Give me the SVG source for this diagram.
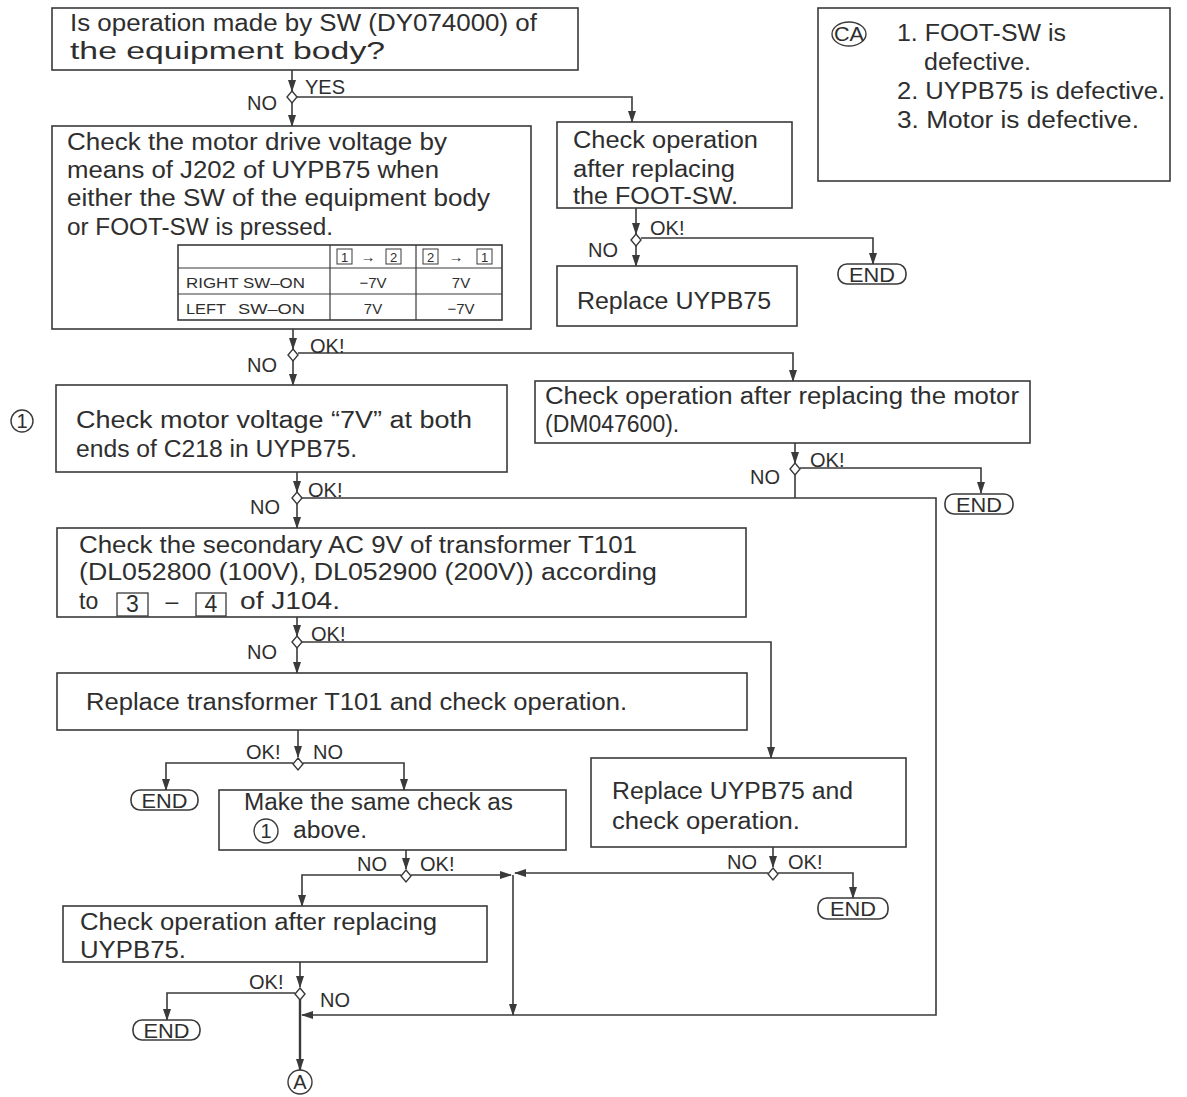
<svg xmlns="http://www.w3.org/2000/svg" width="1187" height="1097" viewBox="0 0 1187 1097">
<style>
.bx{fill:#fff;stroke:#3a3a3a;stroke-width:1.6}
.t{font-family:"Liberation Sans",Arial,sans-serif;font-size:23px;fill:#2e2e2e}
.l{font-family:"Liberation Sans",Arial,sans-serif;font-size:20px;fill:#2e2e2e}
.s{font-family:"Liberation Sans",Arial,sans-serif;font-size:15px;fill:#2e2e2e}
.n{font-family:"Liberation Sans",Arial,sans-serif;font-size:13px;fill:#2e2e2e}
.c{fill:none;stroke:#3a3a3a;stroke-width:1.6}
.end{fill:#fff;stroke:#3a3a3a;stroke-width:1.6}
.dm{fill:#fff;stroke:#3a3a3a;stroke-width:1.4}
</style>
<defs>
<marker id="ah" markerWidth="12" markerHeight="10" refX="11" refY="5" orient="auto" markerUnits="userSpaceOnUse" viewBox="0 0 12 10">
<path d="M0,1 L12,5 L0,9 Z" fill="#3a3a3a"/>
</marker>
<polygon id="dia" points="0,-6 5,0 0,6 -5,0" class="dm"/>
</defs>
<rect width="1187" height="1097" fill="#fff"/>

<g id="connectors">
<path class="c" d="M292,70 V91" marker-end="url(#ah)"/>
<path class="c" d="M292,103 V126" marker-end="url(#ah)"/>
<path class="c" d="M297,97 H632 V122" marker-end="url(#ah)"/>
<path class="c" d="M636,208 V234" marker-end="url(#ah)"/>
<path class="c" d="M636,246 V266" marker-end="url(#ah)"/>
<path class="c" d="M641,238 H873 V264" marker-end="url(#ah)"/>
<path class="c" d="M293,329 V349" marker-end="url(#ah)"/>
<path class="c" d="M293,361 V385" marker-end="url(#ah)"/>
<path class="c" d="M298,353 H793 V381" marker-end="url(#ah)"/>
<path class="c" d="M795,443 V463" marker-end="url(#ah)"/>
<path class="c" d="M800,468 H981 V493" marker-end="url(#ah)"/>
<path class="c" d="M795,474 V498"/>
<path class="c" d="M297,472 V492" marker-end="url(#ah)"/>
<path class="c" d="M297,504 V528" marker-end="url(#ah)"/>
<path class="c" d="M302,498 H936 V1015 H302" marker-end="url(#ah)"/>
<path class="c" d="M297,617 V636" marker-end="url(#ah)"/>
<path class="c" d="M297,648 V673" marker-end="url(#ah)"/>
<path class="c" d="M302,642 H771 V758" marker-end="url(#ah)"/>
<path class="c" d="M298,730 V757" marker-end="url(#ah)"/>
<path class="c" d="M293,763 H166 V790" marker-end="url(#ah)"/>
<path class="c" d="M303,763 H404 V790" marker-end="url(#ah)"/>
<path class="c" d="M406,850 V869" marker-end="url(#ah)"/>
<path class="c" d="M401,875 H302 V906" marker-end="url(#ah)"/>
<path class="c" d="M411,875 H511" marker-end="url(#ah)"/>
<path class="c" d="M773,847 V867" marker-end="url(#ah)"/>
<path class="c" d="M768,873 H515" marker-end="url(#ah)"/>
<path class="c" d="M778,873 H853 V898" marker-end="url(#ah)"/>
<path class="c" d="M513,875 V1015" marker-end="url(#ah)"/>
<path class="c" d="M300,962 V987" marker-end="url(#ah)"/>
<path class="c" d="M295,993 H167 V1020" marker-end="url(#ah)"/>
<path class="c" d="M300,999 V1070" style="stroke-width:2.4" marker-end="url(#ah)"/>
<use href="#dia" x="292" y="97"/>
<use href="#dia" x="636" y="240"/>
<use href="#dia" x="293" y="355"/>
<use href="#dia" x="795" y="469"/>
<use href="#dia" x="297" y="498"/>
<use href="#dia" x="297" y="642"/>
<use href="#dia" x="298" y="764"/>
<use href="#dia" x="406" y="876"/>
<use href="#dia" x="773" y="874"/>
<use href="#dia" x="300" y="994"/>
<text class="l" x="247" y="110">NO</text><text class="l" x="305" y="94">YES</text>
<text class="l" x="650" y="235">OK!</text><text class="l" x="588" y="257">NO</text>
<text class="l" x="310" y="353">OK!</text><text class="l" x="247" y="372">NO</text>
<text class="l" x="810" y="467">OK!</text><text class="l" x="750" y="484">NO</text>
<text class="l" x="308" y="497">OK!</text><text class="l" x="250" y="514">NO</text>
<text class="l" x="311" y="641">OK!</text><text class="l" x="247" y="659">NO</text>
<text class="l" x="246" y="759">OK!</text><text class="l" x="313" y="759">NO</text>
<text class="l" x="357" y="871">NO</text><text class="l" x="420" y="871">OK!</text>
<text class="l" x="727" y="869">NO</text><text class="l" x="788" y="869">OK!</text>
<text class="l" x="249" y="989">OK!</text><text class="l" x="320" y="1007">NO</text>
</g>

<g id="n1">
<rect class="bx" x="52" y="8" width="526" height="62"/>
<text class="t" x="70" y="31" textLength="467" lengthAdjust="spacingAndGlyphs">Is operation made by SW (DY074000) of</text>
<text class="t" x="70" y="59" textLength="315" lengthAdjust="spacingAndGlyphs">the equipment body?</text>
</g>

<g id="n2">
<rect class="bx" x="52" y="126" width="479" height="203"/>
<text class="t" x="67" y="150" textLength="380" lengthAdjust="spacingAndGlyphs">Check the motor drive voltage by</text>
<text class="t" x="67" y="178" textLength="372" lengthAdjust="spacingAndGlyphs">means of J202 of UYPB75 when</text>
<text class="t" x="67" y="206" textLength="423" lengthAdjust="spacingAndGlyphs">either the SW of the equipment body</text>
<text class="t" x="67" y="235" textLength="266" lengthAdjust="spacingAndGlyphs">or FOOT-SW is pressed.</text>
<g id="table">
<rect x="178" y="245" width="324" height="75" fill="none" stroke="#3a3a3a" stroke-width="1.6"/>
<path d="M178,268 H502 M178,294 H502 M330,245 V320 M416,245 V320" stroke="#3a3a3a" stroke-width="1.2" fill="none"/>
<rect x="337" y="249" width="15" height="15" fill="none" stroke="#3a3a3a" stroke-width="1"/>
<text class="n" x="344.5" y="261.5" text-anchor="middle">1</text>
<text class="s" x="368" y="262" text-anchor="middle">→</text>
<rect x="386" y="249" width="15" height="15" fill="none" stroke="#3a3a3a" stroke-width="1"/>
<text class="n" x="393.5" y="261.5" text-anchor="middle">2</text>
<rect x="423" y="249" width="15" height="15" fill="none" stroke="#3a3a3a" stroke-width="1"/>
<text class="n" x="430.5" y="261.5" text-anchor="middle">2</text>
<text class="s" x="456" y="262" text-anchor="middle">→</text>
<rect x="477" y="249" width="15" height="15" fill="none" stroke="#3a3a3a" stroke-width="1"/>
<text class="n" x="484.5" y="261.5" text-anchor="middle">1</text>
<text class="s" x="186" y="288" textLength="119" lengthAdjust="spacingAndGlyphs">RIGHT SW–ON</text>
<text class="s" x="186" y="314" textLength="40" lengthAdjust="spacingAndGlyphs">LEFT</text>
<text class="s" x="238" y="314" textLength="67" lengthAdjust="spacingAndGlyphs">SW–ON</text>
<text class="s" x="373" y="288" text-anchor="middle">−7V</text>
<text class="s" x="461" y="288" text-anchor="middle">7V</text>
<text class="s" x="373" y="314" text-anchor="middle">7V</text>
<text class="s" x="461" y="314" text-anchor="middle">−7V</text>
</g>
</g>

<g id="n3">
<rect class="bx" x="557" y="122" width="235" height="86"/>
<text class="t" x="573" y="148" textLength="185" lengthAdjust="spacingAndGlyphs">Check operation</text>
<text class="t" x="573" y="177" textLength="162" lengthAdjust="spacingAndGlyphs">after replacing</text>
<text class="t" x="573" y="204" textLength="165" lengthAdjust="spacingAndGlyphs">the FOOT-SW.</text>
</g>

<g id="n4">
<rect class="bx" x="557" y="266" width="240" height="60"/>
<text class="t" x="577" y="309" textLength="194" lengthAdjust="spacingAndGlyphs">Replace UYPB75</text>
</g>

<g id="end1">
<rect class="end" x="838" y="264" width="68" height="20" rx="9"/>
<text class="l" x="872" y="281.5" text-anchor="middle" textLength="46" lengthAdjust="spacingAndGlyphs">END</text>
</g>

<g id="ca">
<rect class="bx" x="818" y="8" width="352" height="173"/>
<ellipse cx="849" cy="34" rx="17" ry="12" fill="none" stroke="#3a3a3a" stroke-width="1.4"/>
<text class="l" x="849" y="41" text-anchor="middle" textLength="30" lengthAdjust="spacingAndGlyphs">CA</text>
<text class="t" x="897" y="41" textLength="169" lengthAdjust="spacingAndGlyphs">1. FOOT-SW is</text>
<text class="t" x="924" y="70" textLength="107" lengthAdjust="spacingAndGlyphs">defective.</text>
<text class="t" x="897" y="99" textLength="268" lengthAdjust="spacingAndGlyphs">2. UYPB75 is defective.</text>
<text class="t" x="897" y="128" textLength="242" lengthAdjust="spacingAndGlyphs">3. Motor is defective.</text>
</g>

<g id="n5">
<circle cx="22" cy="421" r="11" fill="none" stroke="#3a3a3a" stroke-width="1.4"/>
<text class="l" x="22" y="428" text-anchor="middle">1</text>
<rect class="bx" x="56" y="385" width="451" height="87"/>
<text class="t" x="76" y="428" textLength="396" lengthAdjust="spacingAndGlyphs">Check motor voltage “7V” at both</text>
<text class="t" x="76" y="457" textLength="281" lengthAdjust="spacingAndGlyphs">ends of C218 in UYPB75.</text>
</g>

<g id="n6">
<rect class="bx" x="535" y="381" width="495" height="62"/>
<text class="t" x="545" y="404" textLength="474" lengthAdjust="spacingAndGlyphs">Check operation after replacing the motor</text>
<text class="t" x="545" y="432">(DM047600).</text>
</g>

<g id="end2">
<rect class="end" x="945" y="494" width="68" height="20" rx="9"/>
<text class="l" x="979" y="511.5" text-anchor="middle" textLength="46" lengthAdjust="spacingAndGlyphs">END</text>
</g>

<g id="n7">
<rect class="bx" x="57" y="528" width="689" height="89"/>
<text class="t" x="79" y="553" textLength="558" lengthAdjust="spacingAndGlyphs">Check the secondary AC 9V of transformer T101</text>
<text class="t" x="79" y="580" textLength="578" lengthAdjust="spacingAndGlyphs">(DL052800 (100V), DL052900 (200V)) according</text>
<text class="t" x="79" y="609">to</text>
<rect x="117" y="593" width="31" height="23" fill="none" stroke="#3a3a3a" stroke-width="1.3"/>
<text class="t" x="132.5" y="612" text-anchor="middle">3</text>
<text class="t" x="172" y="609" text-anchor="middle">–</text>
<rect x="196" y="593" width="30" height="23" fill="none" stroke="#3a3a3a" stroke-width="1.3"/>
<text class="t" x="211" y="612" text-anchor="middle">4</text>
<text class="t" x="240" y="609" textLength="100" lengthAdjust="spacingAndGlyphs">of J104.</text>
</g>

<g id="n8">
<rect class="bx" x="57" y="673" width="690" height="57"/>
<text class="t" x="86" y="710" textLength="541" lengthAdjust="spacingAndGlyphs">Replace transformer T101 and check operation.</text>
</g>

<g id="end3">
<rect class="end" x="131" y="790" width="67" height="20" rx="9"/>
<text class="l" x="164.5" y="807.5" text-anchor="middle" textLength="46" lengthAdjust="spacingAndGlyphs">END</text>
</g>

<g id="n10">
<rect class="bx" x="219" y="790" width="347" height="60"/>
<text class="t" x="244" y="810" textLength="269" lengthAdjust="spacingAndGlyphs">Make the same check as</text>
<circle cx="266" cy="831" r="12" fill="none" stroke="#3a3a3a" stroke-width="1.4"/>
<text class="l" x="266" y="838" text-anchor="middle">1</text>
<text class="t" x="293" y="838" textLength="74" lengthAdjust="spacingAndGlyphs">above.</text>
</g>

<g id="n9">
<rect class="bx" x="591" y="758" width="315" height="89"/>
<text class="t" x="612" y="799" textLength="241" lengthAdjust="spacingAndGlyphs">Replace UYPB75 and</text>
<text class="t" x="612" y="829" textLength="188" lengthAdjust="spacingAndGlyphs">check operation.</text>
</g>

<g id="end4">
<rect class="end" x="818" y="898" width="70" height="21" rx="9"/>
<text class="l" x="853" y="915.5" text-anchor="middle" textLength="46" lengthAdjust="spacingAndGlyphs">END</text>
</g>

<g id="n11">
<rect class="bx" x="63" y="906" width="424" height="56"/>
<text class="t" x="80" y="930" textLength="357" lengthAdjust="spacingAndGlyphs">Check operation after replacing</text>
<text class="t" x="80" y="958" textLength="106" lengthAdjust="spacingAndGlyphs">UYPB75.</text>
</g>

<g id="end5">
<rect class="end" x="133" y="1020" width="67" height="20" rx="9"/>
<text class="l" x="166.5" y="1037.5" text-anchor="middle" textLength="46" lengthAdjust="spacingAndGlyphs">END</text>
</g>

<g id="A">
<circle cx="300" cy="1082" r="12" fill="none" stroke="#3a3a3a" stroke-width="1.4"/>
<text class="l" x="300" y="1089" text-anchor="middle">A</text>
</g>
</svg>
